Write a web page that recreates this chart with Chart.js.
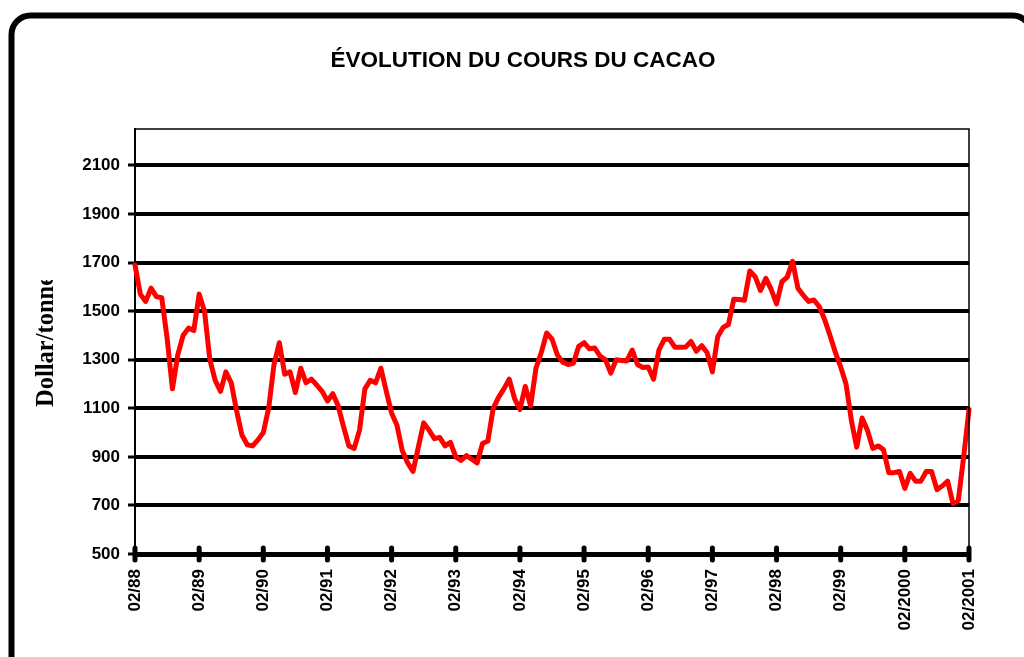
<!DOCTYPE html>
<html>
<head>
<meta charset="utf-8">
<title>Évolution du cours du cacao</title>
<script src="https://cdn.jsdelivr.net/npm/chart.js@4.4.1/dist/chart.umd.min.js"></script>
<style>
  html, body { margin: 0; padding: 0; background: #fff; }
  #wrap { position: relative; width: 1024px; height: 657px; overflow: hidden; }
</style>
</head>
<body>
<div id="wrap"><canvas id="cacaoChart" width="1024" height="657"></canvas></div>
<script>
// cours mensuel du cacao, 02/1988 -> 02/2001, en dollar/tonne
const price = [
  1690, 1570, 1540, 1595, 1560, 1555, 1390, 1180, 1320, 1400, 1430, 1420,   // 88
  1570, 1500, 1300, 1215, 1170, 1250, 1205, 1090,  990,  950,  945,  970,   // 89
  1000, 1100, 1280, 1370, 1240, 1250, 1165, 1265, 1205, 1220, 1195, 1170,   // 90
  1130, 1160, 1110, 1025,  945,  935, 1010, 1180, 1215, 1205, 1265, 1170,   // 91
  1080, 1030,  925,  875,  840,  940, 1040, 1010,  975,  980,  945,  960,   // 92
   900,  885,  905,  890,  875,  955,  965, 1100, 1145, 1180, 1220, 1140,   // 93
  1095, 1190, 1110, 1265, 1330, 1410, 1385, 1320, 1290, 1280, 1285, 1355,   // 94
  1370, 1345, 1348, 1315, 1300, 1245, 1300, 1297, 1295, 1340, 1280, 1268,   // 95
  1270, 1220, 1340, 1384, 1384, 1351, 1351, 1352, 1375, 1335, 1358, 1330,   // 96
  1250, 1395, 1433, 1445, 1549, 1548, 1545, 1665, 1642, 1585, 1635, 1590,   // 97
  1530, 1621, 1640, 1705, 1594, 1565, 1540, 1546, 1518, 1465, 1400, 1330,   // 98
  1270, 1200, 1050,  940, 1060, 1010,  935,  945,  930,  835,  835,  840,   // 99
   770,  832,  800,  800,  840,  840,  765,  780,  800,  708,  720,  900,   // 2000
  1095                                                                      // 02/2001
];

const yearTicks = ['02/88', '02/89', '02/90', '02/91', '02/92', '02/93', '02/94',
                   '02/95', '02/96', '02/97', '02/98', '02/99', '02/2000', '02/2001'];
const yearPos = [0, 12, 24, 36, 48, 60, 72, 84, 96, 108, 120, 132, 144, 156];
const yTicks = [500, 700, 900, 1100, 1300, 1500, 1700, 1900, 2100];

const titleText = 'ÉVOLUTION DU COURS DU CACAO';
const yAxisText = 'Dollar/tonne';

// cadre arrondi + titre + libellé vertical + bordures du graphique
const decorPlugin = {
  id: 'decor',
  beforeDraw(chart) {
    const ctx = chart.ctx;
    ctx.save();
    ctx.fillStyle = '#fff';
    ctx.fillRect(0, 0, chart.width, chart.height);
    ctx.strokeStyle = '#000';
    ctx.lineWidth = 6;
    ctx.beginPath();
    ctx.roundRect(11.5, 15.5, 1020, 680, 19);
    ctx.stroke();
    ctx.restore();
  },
  afterDraw(chart) {
    const ctx = chart.ctx;
    const area = chart.chartArea;
    const xs = chart.scales.x;
    ctx.save();

    // bord haut et droit, fins
    ctx.strokeStyle = '#000';
    ctx.lineWidth = 1.5;
    ctx.beginPath();
    ctx.moveTo(area.left, area.top);
    ctx.lineTo(area.right, area.top);
    ctx.lineTo(area.right, area.bottom);
    ctx.stroke();

    // graduations de l'axe X (gros traits arrondis)
    ctx.lineWidth = 5;
    ctx.lineCap = 'round';
    yearPos.forEach(p => {
      const x = xs.getPixelForValue(p);
      ctx.beginPath();
      ctx.moveTo(x, area.bottom - 6);
      ctx.lineTo(x, area.bottom + 6);
      ctx.stroke();
    });

    // titre
    ctx.fillStyle = '#000';
    ctx.font = 'bold 22.5px "Liberation Sans", Arial, sans-serif';
    ctx.textAlign = 'center';
    ctx.textBaseline = 'alphabetic';
    ctx.fillText(titleText, 523, 67);

    // libellé axe Y (coupé en haut comme dans l'original)
    ctx.beginPath();
    ctx.rect(0, 280, 130, 300);
    ctx.clip();
    ctx.translate(53, 407);
    ctx.rotate(-Math.PI / 2);
    ctx.font = 'bold 24.5px "Liberation Serif", "Times New Roman", serif';
    ctx.textAlign = 'left';
    ctx.fillText(yAxisText, 0, 0);
    ctx.restore();
  }
};

const ctx = document.getElementById('cacaoChart').getContext('2d');
new Chart(ctx, {
  type: 'line',
  data: {
    datasets: [{
      label: 'Cours du cacao',
      data: price.map((v, i) => ({ x: i, y: v })),
      borderColor: '#ff0000',
      borderWidth: 5,
      borderJoinStyle: 'round',
      borderCapStyle: 'round',
      pointRadius: 0,
      tension: 0,
      fill: false,
      clip: 6
    }]
  },
  options: {
    responsive: false,
    animation: false,
    devicePixelRatio: 1,
    layout: { padding: { left: 20, right: 55, top: 129, bottom: 0 } },
    plugins: {
      legend: { display: false },
      title: { display: false },
      tooltip: { enabled: false }
    },
    scales: {
      x: {
        type: 'linear',
        min: 0,
        max: 156,
        afterBuildTicks: s => { s.ticks = yearPos.map(v => ({ value: v })); },
        afterFit: s => { s.height = 103; },
        grid: { display: false, drawTicks: false },
        border: { display: true, color: '#000', width: 5 },
        ticks: {
          autoSkip: false,
          minRotation: 90,
          maxRotation: 90,
          padding: 15,
          color: '#000',
          font: { family: '"Liberation Sans", Arial, sans-serif', size: 17, weight: 'bold' },
          callback: v => yearTicks[yearPos.indexOf(v)]
        }
      },
      y: {
        min: 500,
        max: 2250,
        afterBuildTicks: s => { s.ticks = yTicks.map(v => ({ value: v })); },
        afterFit: s => { s.width = 115; },
        grid: {
          color: '#000',
          lineWidth: 4,
          tickLength: 7,
          tickWidth: 3,
          tickColor: '#000'
        },
        border: { display: true, color: '#000', width: 2 },
        ticks: {
          padding: 8,
          color: '#000',
          font: { family: '"Liberation Sans", Arial, sans-serif', size: 17, weight: 'bold' },
          callback: v => String(v)
        }
      }
    }
  },
  plugins: [decorPlugin]
});
</script>
</body>
</html>
